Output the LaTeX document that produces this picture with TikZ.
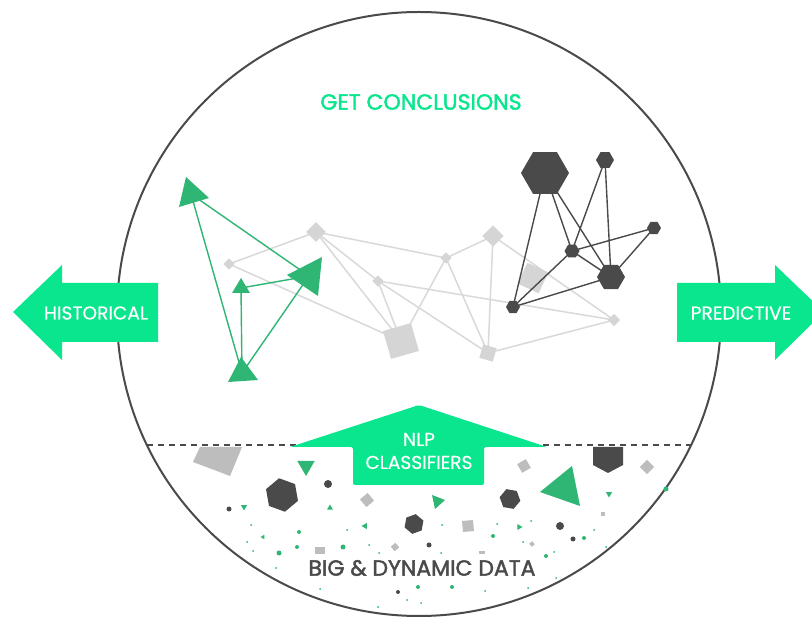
\documentclass[tikz,border=0pt]{standalone}
\usepackage{fontspec}
\setmainfont{Poppins}
\newfontfamily\headfont{Poppins}[FakeBold=1.8]
\newfontfamily\arrowfont{Poppins}[FakeBold=0.4]
\usetikzlibrary{calc}
\definecolor{brightgreen}{HTML}{0AE68E}
\definecolor{leafgreen}{HTML}{2FB574}
\definecolor{ink}{HTML}{4A4A4A}
\definecolor{mist}{HTML}{D5D5D5}
\definecolor{mistline}{HTML}{D9D9D9}
\definecolor{pebble}{HTML}{BDBDBD}

% filled shapes centred on a coordinate
\newcommand\hexat[4]{\fill[#4, shift={(#1)}] (#2:#3) -- (#2+60:#3) -- (#2+120:#3) -- (#2+180:#3) -- (#2+240:#3) -- (#2+300:#3) -- cycle;}
\newcommand\triat[4]{\fill[#4, shift={(#1)}] (#2:#3) -- (#2+120:#3) -- (#2+240:#3) -- cycle;}
\newcommand\sqat[4]{\fill[#4, shift={(#1)}, rotate=#3] (-#2/2,-#2/2) rectangle (#2/2,#2/2);}
\newcommand\dotat[3]{\fill[#3] (#1) circle (#2);}

\begin{document}
\begin{tikzpicture}[x=1pt,y=-1pt,
  greyedge/.style={draw=mistline, line width=1.5pt},
  darkedge/.style={draw=ink, line width=1.4pt},
  greenedge/.style={draw=leafgreen, line width=1.4pt},
  arrowfill/.style={fill=brightgreen},
  arrowlabel/.style={text=white, inner sep=0pt, font=\arrowfont\fontsize{18.6}{23}\selectfont, align=center},
]
\useasboundingbox (0,0) rectangle (812,617);
\fill[white] (0,0) rectangle (812,617);

% outer ring and the data horizon
\coordinate (ringc) at (419,314);
\draw[ink, line width=2pt] (ringc) circle (302);
\coordinate (horizonL) at (147,445);
\coordinate (horizonR) at (691,445);
\draw[ink, line width=2pt, dash pattern=on 6pt off 5pt] (horizonL) -- (horizonR);

% network positions
\coordinate (g1) at (316,232);
\coordinate (g2) at (229,264);
\coordinate (g3) at (378,281);
\coordinate (g4) at (401,341);
\coordinate (g5) at (446,258);
\coordinate (g6) at (493,236);
\coordinate (g7) at (533,278);
\coordinate (g8) at (488,353);
\coordinate (g9) at (614,320);

\coordinate (h1) at (545,173);
\coordinate (h2) at (605,160);
\coordinate (h3) at (654,228);
\coordinate (h4) at (572,251);
\coordinate (h5) at (611,277);
\coordinate (h6) at (513,307);

\coordinate (t1) at (191,194);
\coordinate (t2) at (309,276);
\coordinate (t3) at (241,288);
\coordinate (t4) at (242,373);

% grey links
\draw[greyedge] (g2) -- (g1);
\draw[greyedge] (g2) -- (g4);
\draw[greyedge] (g1) -- (g4);
\draw[greyedge] (g1) -- (g3);
\draw[greyedge] (g1) -- (g5);
\draw[greyedge] (g5) -- (g6);
\draw[greyedge] (g5) -- (g4);
\draw[greyedge] (g5) -- (g8);
\draw[greyedge] (g3) -- (g4);
\draw[greyedge] (g3) -- (g8);
\draw[greyedge] (g3) -- (g9);
\draw[greyedge] (g6) -- (g8);
\draw[greyedge] (g6) -- (g9);
\draw[greyedge] (g8) -- (g9);

% grey nodes
\sqat{g1}{14}{45}{mist}
\sqat{g2}{8}{45}{mist}
\sqat{g3}{8}{45}{mist}
\sqat{g4}{29}{16}{mist}
\sqat{g5}{8}{45}{mist}
\sqat{g6}{15}{45}{mist}
\sqat{g7}{23}{-25}{mist}
\sqat{g8}{14}{-16}{mist}
\sqat{g9}{8.5}{45}{mist}

% dark links
\draw[darkedge] (h1) -- (h6);
\draw[darkedge] (h1) -- (h4);
\draw[darkedge] (h1) -- (h5);
\draw[darkedge] (h2) -- (h4);
\draw[darkedge] (h2) -- (h5);
\draw[darkedge] (h4) -- (h3);
\draw[darkedge] (h3) -- (h5);
\draw[darkedge] (h4) -- (h5);
\draw[darkedge] (h4) -- (h6);
\draw[darkedge] (h6) -- (h5);

% dark nodes
\hexat{h1}{0}{24}{ink}
\hexat{h2}{0}{9}{ink}
\hexat{h3}{0}{7}{ink}
\hexat{h4}{0}{7.5}{ink}
\hexat{h5}{0}{14}{ink}
\hexat{h6}{0}{7}{ink}

% green links
\draw[greenedge] (t1) -- (t4);
\draw[greenedge] (t1) -- (t2);
\draw[greenedge] (t2) -- (t3);
\draw[greenedge] (t3) -- (t4);
\draw[greenedge] (t2) -- (t4);

% green nodes
\fill[leafgreen] (186,177) -- (179,207) -- (209,198) -- cycle;
\fill[leafgreen] (322,257) -- (318,296) -- (287,275) -- cycle;
\fill[leafgreen] (241,278) -- (232,293) -- (250,293) -- cycle;
\fill[leafgreen] (241,357) -- (228,382) -- (258,380) -- cycle;

% scattered raw data below the horizon
\fill[pebble] (200,447) -- (242,447) -- (230,476) -- (193,462) -- cycle;
\triat{306,466}{90}{10}{leafgreen}
\hexat{282,495}{80}{17}{ink}
\dotat{328,484}{4}{ink}
\sqat{367,500}{10}{40}{pebble}
\dotat{229,509}{2.5}{ink}
\triat{244,507}{90}{3.5}{leafgreen}
\triat{330,508}{-90}{3.5}{leafgreen}
\fill[leafgreen] (432,495) -- (445,500) -- (435,509) -- cycle;
\hexat{414,524}{100}{10}{ink}
\hexat{510,499}{10}{10.5}{ink}
\fill[leafgreen] (572,466) -- (580,506) -- (540,492) -- cycle;
\fill[ink] (593,447) -- (623,447) -- (623,465) -- (608,473) -- (593,465) -- cycle;
\sqat{647,467}{10}{45}{pebble}
\sqat{524,466}{10}{30}{pebble}
\sqat{468,526}{11}{5}{pebble}
\triat{519,527}{0}{3.5}{leafgreen}
\dotat{560,526}{4}{ink}
\triat{609,494}{90}{3.5}{leafgreen}
\dotat{666,489}{2.5}{leafgreen}
\sqat{603,514}{4}{0}{pebble}
\dotat{493,536}{2}{leafgreen}
\sqat{532,544}{4}{30}{pebble}
\dotat{573,539}{2.5}{ink}
\dotat{584,538}{2}{leafgreen}
\dotat{546,556}{2}{leafgreen}
\fill[pebble] (479,551) rectangle (485,554);
\dotat{452,587}{2}{leafgreen}
\triat{365,526}{180}{3.5}{leafgreen}
\dotat{299,532}{2}{leafgreen}
\dotat{297,547}{2}{leafgreen}
\dotat{279,553}{2.5}{leafgreen}
\fill[pebble] (315,547) rectangle (325,554);
\dotat{343,547}{2.5}{leafgreen}
\sqat{395,547}{6}{40}{pebble}
\dotat{429,545}{2.5}{ink}
\triat{263,537}{180}{2.5}{leafgreen}
\dotat{398,592}{2}{ink}
\dotat{418,587}{2}{leafgreen}
\foreach \p in {{251,525},{347,530},{247,542},{253,551},{369,545},{276,568},{320,589},
  {407,600},{378,607},{421,603},{442,525},{497,524},{531,521},{594,530},{523,542},
  {441,553},{554,552},{606,547},{485,591},{528,588},{556,578},{379,553}}
  {\fill[leafgreen] (\p) circle (1);}

% direction arrows
\fill[arrowfill] (13,312) -- (62,265) -- (62,283) -- (158,283) -- (158,342) -- (62,342) -- (62,360) -- cycle;
\node[arrowlabel] (historical) at (96,313) {HISTORICAL};

\fill[arrowfill] (677,283) -- (775,283) -- (775,265) -- (824,312) -- (775,360) -- (775,342) -- (677,342) -- cycle;
\node[arrowlabel] (predictive) at (741,313) {PREDICTIVE};

\fill[arrowfill, rounded corners=2pt] (353,447) -- (353,485) -- (484,485) -- (484,447) -- (547,447) -- (419,405) -- (290,447) -- cycle;
\node[arrowlabel] (nlp) at (419,451) {NLP\\CLASSIFIERS};

% headings
\node[text=brightgreen, font=\headfont\fontsize{22}{26}\selectfont] (conclusions) at (421,102) {GET CONCLUSIONS};
\node[text=ink, font=\headfont\fontsize{22}{26}\selectfont] (bigdata) at (422,568) {BIG \& DYNAMIC DATA};
\end{tikzpicture}
\end{document}
